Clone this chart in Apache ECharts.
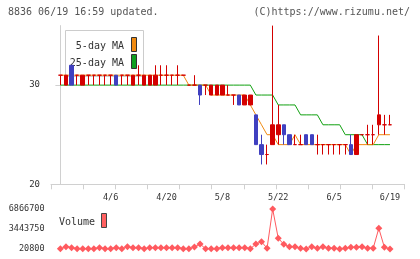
<!DOCTYPE html>
<html>
<head>
<meta charset="utf-8">
<script src="https://cdn.jsdelivr.net/npm/echarts@6/dist/echarts.min.js"></script>
<style>
html, body { margin: 0; padding: 0; background: #fff; }
#chart { width: 420px; height: 259px; }
</style>
</head>
<body>
<div id="chart"></div>
<script>
// 四本値 (2020/3/24 - 6/19, 60本)
const opens  = [31,30,32,31,30,31,31,31,31,31, 31,31,31,30,31,30,30,30,31,31,
                31,31,31,30,30,30,30,29,29,29, 29,29,29,28,28,27,24,23,24,25,
                26,25,24,24,25,25,24,24,24,24, 24,24,24,23,25,25,25,26,26,26];
const closes = [31,31,30,31,31,31,31,31,31,31, 30,31,31,31,31,31,31,31,31,31,
                31,31,31,30,30,29,30,30,30,30, 29,29,28,29,29,24,23,23,26,26,
                25,24,24,24,24,24,24,24,24,24, 24,24,23,25,25,25,25,27,26,26];
const lows   = [30,30,30,30,30,30,30,30,30,30, 30,30,30,30,30,30,30,30,30,30,
                30,30,31,30,30,28,29,29,29,29, 29,28,28,28,28,24,22,22,24,24,
                24,24,24,24,24,24,23,23,23,23, 23,23,23,23,25,24,24,25,25,26];
const highs  = [31,31,32,31,31,31,31,31,31,31, 31,31,31,31,32,31,31,32,32,32,
                31,32,31,30,31,30,30,30,30,30, 30,29,29,29,29,27,25,24,36,28,
                26,25,25,25,25,25,25,24,24,24, 24,24,25,25,25,26,26,35,27,27];

// 移動平均 (5日・25日)
const ma5  = [31,31,31,31,31,31,31,31,31,31, 31,31,31,31,31,31,31,31,31,31,
              31,31,31,30,30,30,30,29,29,29, 29,29,29,29,28,27,26,25,25,24,
              24,24,25,24,24,24,24,24,24,24, 24,24,23,24,24,24,24,25,25,25];
const ma25 = [30,30,30,30,30,30,30,30,30,30, 30,30,30,30,30,30,30,30,30,30,
              30,30,30,30,30,30,30,30,30,30, 30,30,30,30,30,29,29,29,29,28,
              28,28,28,27,27,27,27,26,26,26, 26,25,25,25,25,24,24,24,24,24];

// 出来高
const volumes = [60000,420000,250000,60000,60000,60000,60000,250000,60000,60000,
                 250000,60000,420000,250000,250000,60000,250000,250000,250000,250000,
                 250000,250000,60000,60000,370000,880000,60000,60000,60000,250000,
                 250000,250000,250000,250000,60000,880000,1270000,150000,6866700,1850000,
                 820000,420000,420000,150000,20800,420000,150000,420000,150000,150000,
                 40000,150000,300000,300000,420000,150000,150000,3560000,310000,40000];

const labelIndex = [9, 19, 29, 39, 49, 59];
const labelText = ['4/6', '4/20', '5/8', '5/22', '6/5', '6/19'];
const priceTicks = [20, 30];
const volumeTicks = [20800, 3443750, 6866700];

const RED = '#d40000';
const BLUE = '#4040c0';
const AXIS = '#d0d0d0';
const MONO = 'DejaVu Sans Mono';

// x軸の範囲 (ローソク足の位置合わせ)
const XMIN = -1.68;
const XMAX = 61.6;
const xTicks = [];
for (let k = 0; k <= 11; k++) {
    xTicks.push(XMIN + k * (XMAX - XMIN) / 11);
}

const candleData = opens.map(function (o, i) {
    const item = { value: [i, o, closes[i], lows[i], highs[i]] };
    if (o === closes[i]) {
        item.itemStyle = { color0: RED, borderColor0: RED };
    }
    return item;
});

const chart = echarts.init(document.getElementById('chart'));
chart.setOption({
    animation: false,
    grid: [
        { left: 51, top: 25.6, width: 353.5, height: 158.7 },
        { left: 51, top: 209, width: 353.5, height: 40 }
    ],
    xAxis: [{
        type: 'value',
        gridIndex: 0,
        min: XMIN,
        max: XMAX,
        splitLine: { show: false },
        axisLine: { lineStyle: { color: AXIS } },
        axisTick: { customValues: xTicks, length: 5, lineStyle: { color: AXIS } },
        axisLabel: {
            customValues: labelIndex,
            margin: 9,
            color: '#333',
            fontFamily: MONO,
            fontSize: 8.5,
            formatter: function (v) {
                return labelText[labelIndex.indexOf(Math.round(v))] || '';
            }
        }
    }, {
        type: 'value',
        gridIndex: 1,
        min: XMIN,
        max: XMAX,
        show: false
    }],
    yAxis: [{
        type: 'value',
        gridIndex: 0,
        min: 20,
        max: 36,
        splitLine: { show: false },
        axisLine: { show: true, lineStyle: { color: AXIS } },
        axisTick: { show: true, customValues: priceTicks, length: 5, lineStyle: { color: AXIS } },
        axisLabel: { customValues: priceTicks, margin: 11, color: '#333', fontFamily: MONO, fontSize: 9 }
    }, {
        type: 'value',
        gridIndex: 1,
        min: 20800,
        max: 6866700,
        splitLine: { show: false },
        axisLine: { show: false },
        axisTick: { show: false },
        axisLabel: {
            customValues: volumeTicks,
            margin: 6.5,
            color: '#333',
            fontFamily: MONO,
            fontSize: 8.5,
            formatter: function (v) { return String(v); }
        }
    }],
    graphic: [
        { type: 'text', style: { text: '8836 06/19 16:59 updated.', x: 8, y: 12.5, font: '10px ' + MONO, fill: '#555', textVerticalAlign: 'middle' } },
        { type: 'text', style: { text: '(C)https://www.rizumu.net/', x: 410, y: 12.5, font: '10px ' + MONO, fill: '#555', textAlign: 'right', textVerticalAlign: 'middle' } },
        { type: 'rect', shape: { x: 65.5, y: 30.5, width: 78, height: 46 }, style: { fill: '#fff', stroke: '#ccc', lineWidth: 1 } },
        { type: 'text', style: { text: '5-day MA', x: 124, y: 46, font: '10px ' + MONO, fill: '#333', textAlign: 'right', textVerticalAlign: 'middle' } },
        { type: 'text', style: { text: '25-day MA', x: 124, y: 63, font: '10px ' + MONO, fill: '#333', textAlign: 'right', textVerticalAlign: 'middle' } },
        { type: 'rect', shape: { x: 131.5, y: 37.5, width: 5, height: 14 }, style: { fill: '#f08a10', stroke: '#333', lineWidth: 1 } },
        { type: 'rect', shape: { x: 131.5, y: 54.5, width: 5, height: 14 }, style: { fill: '#10a020', stroke: '#333', lineWidth: 1 } },
        { type: 'text', style: { text: 'Volume', x: 59, y: 222, font: '10px ' + MONO, fill: '#333', textVerticalAlign: 'middle' } },
        { type: 'rect', shape: { x: 101.5, y: 213.5, width: 5, height: 14 }, style: { fill: '#ff6060', stroke: '#444', lineWidth: 1 } }
    ],
    series: [{
        name: '25-day MA',
        type: 'line',
        xAxisIndex: 0,
        yAxisIndex: 0,
        data: ma25.map(function (v, i) { return [i, v]; }),
        symbol: 'none',
        lineStyle: { color: '#10a010', width: 1 },
        z: 2
    }, {
        name: '5-day MA',
        type: 'line',
        xAxisIndex: 0,
        yAxisIndex: 0,
        data: ma5.map(function (v, i) { return [i, v]; }),
        symbol: 'none',
        lineStyle: { color: '#f08a10', width: 1 },
        z: 2
    }, {
        name: 'price',
        type: 'candlestick',
        xAxisIndex: 0,
        yAxisIndex: 0,
        encode: { x: 0, y: [1, 2, 3, 4] },
        data: candleData,
        barWidth: 4,
        itemStyle: {
            color: RED,
            color0: BLUE,
            borderColor: RED,
            borderColor0: BLUE,
            borderWidth: 1
        },
        z: 3
    }, {
        name: 'Volume',
        type: 'line',
        xAxisIndex: 1,
        yAxisIndex: 1,
        data: volumes.map(function (v, i) { return [i, v]; }),
        symbol: 'diamond',
        symbolSize: 7,
        itemStyle: { color: '#ff5a5f' },
        lineStyle: { color: '#ff5a5f', width: 1 }
    }]
});
</script>
</body>
</html>
